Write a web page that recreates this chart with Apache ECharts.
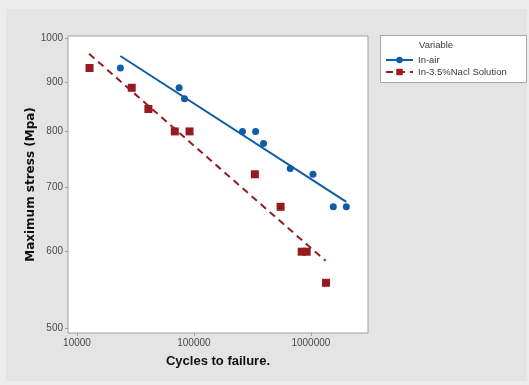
<!DOCTYPE html>
<html>
<head>
<meta charset="utf-8">
<script src="https://cdn.jsdelivr.net/npm/echarts@6/dist/echarts.min.js"></script>
<style>
  html, body { margin: 0; padding: 0; background: #ececec; }
  #chart { width: 529px; height: 385px; }
</style>
</head>
<body>
<div id="chart"></div>
<script>
// Fatigue test results: cycles to failure vs. maximum stress
const airCycles  = [23500, 74700, 83100, 260000, 337000, 394000, 666000, 1042000, 1555000, 2010000];
const airStress  = [931, 888, 865, 800, 800, 777, 732, 722, 668, 668];
const naclCycles = [12800, 29400, 40800, 68600, 91700, 332000, 551000, 834000, 921000, 1347000];
const naclStress = [931, 888, 844, 800, 800, 722, 668, 600, 600, 557];

// Fitted trend lines (end points)
const airFitCycles  = [23500, 2010000];
const airFitStress  = [958, 676];
const naclFitCycles = [12700, 1336000];
const naclFitStress = [963, 587];

// Axis tick labels
const xTicks = [10000, 100000, 1000000];
const yTicks = [500, 600, 700, 800, 900, 1000];

const seriesNames = ['In-air', 'In-3.5%Nacl Solution'];
const BLUE = '#0F5CA8';
const RED = '#951B1E';

const pairs = (xs, ys) => xs.map((x, i) => [x, ys[i]]);

const chart = echarts.init(document.getElementById('chart'), null, { renderer: 'canvas' });

const FONT = 'Liberation Sans, Arial, sans-serif';
const labelStyle = { color: '#4a4a4a', fontSize: 10, fontFamily: FONT, formatter: v => String(v) };

chart.setOption({
  backgroundColor: '#ececec',
  animation: false,
  graphic: [
    { type: 'rect', z: -10, shape: { x: 6, y: 9, width: 521, height: 372 },
      style: { fill: '#e4e4e4' } },
    { type: 'rect', z: 1, shape: { x: 380.5, y: 35.5, width: 146, height: 47 },
      style: { fill: '#ffffff', stroke: '#a8a8a8', lineWidth: 1 } },
    { type: 'text', z: 2, left: 419, top: 40,
      style: { text: 'Variable', fill: '#3a3a3a', fontSize: 9.5, fontFamily: FONT } }
  ],
  grid: {
    left: 68, top: 36, right: 161, bottom: 52,
    show: true, backgroundColor: '#ffffff', borderColor: '#a0a0a0', borderWidth: 1
  },
  legend: {
    data: seriesNames,
    orient: 'vertical',
    left: 380, top: 50,
    itemWidth: 27, itemHeight: 8, itemGap: 2,
    z: 3,
    textStyle: { color: '#3a3a3a', fontSize: 9.5, fontFamily: FONT }
  },
  xAxis: {
    type: 'log', logBase: 10, min: 8380, max: 3080000,
    name: 'Cycles to failure.', nameLocation: 'middle', nameGap: 22, nameMoveOverlap: false,
    nameTextStyle: { color: '#111', fontSize: 13, fontWeight: 'bold', fontFamily: FONT },
    axisLine: { show: false },
    splitLine: { show: false },
    minorTick: { show: false },
    axisTick: { show: true, length: 3, lineStyle: { color: '#a0a0a0' }, customValues: xTicks },
    axisLabel: Object.assign({ margin: 5, customValues: xTicks }, labelStyle)
  },
  yAxis: {
    type: 'log', logBase: 10, min: 494, max: 1005,
    name: 'Maximum stress (Mpa)', nameLocation: 'middle', nameGap: 31, nameMoveOverlap: false,
    nameTextStyle: { color: '#111', fontSize: 12, fontWeight: 'bold', fontFamily: 'DejaVu Sans, sans-serif' },
    axisLine: { show: false },
    splitLine: { show: false },
    axisTick: { show: true, length: 3, lineStyle: { color: '#a0a0a0' }, customValues: yTicks },
    axisLabel: Object.assign({ margin: 5, customValues: yTicks }, labelStyle)
  },
  series: [
    {
      name: seriesNames[0], type: 'line', data: pairs(airFitCycles, airFitStress),
      symbol: 'circle', symbolSize: 7, showSymbol: false,
      lineStyle: { color: BLUE, width: 2 }, itemStyle: { color: BLUE }, z: 3
    },
    {
      name: seriesNames[1], type: 'line', data: pairs(naclFitCycles, naclFitStress),
      symbol: 'rect', symbolSize: 8, showSymbol: false,
      lineStyle: { color: RED, width: 2, type: [7, 5] }, itemStyle: { color: RED }, z: 3
    },
    {
      name: 'air-points', type: 'scatter', data: pairs(airCycles, airStress),
      symbol: 'circle', symbolSize: 7, itemStyle: { color: BLUE, opacity: 1 }, z: 4
    },
    {
      name: 'nacl-points', type: 'scatter', data: pairs(naclCycles, naclStress),
      symbol: 'rect', symbolSize: 8, itemStyle: { color: RED, opacity: 1 }, z: 4
    }
  ]
});
</script>
</body>
</html>
